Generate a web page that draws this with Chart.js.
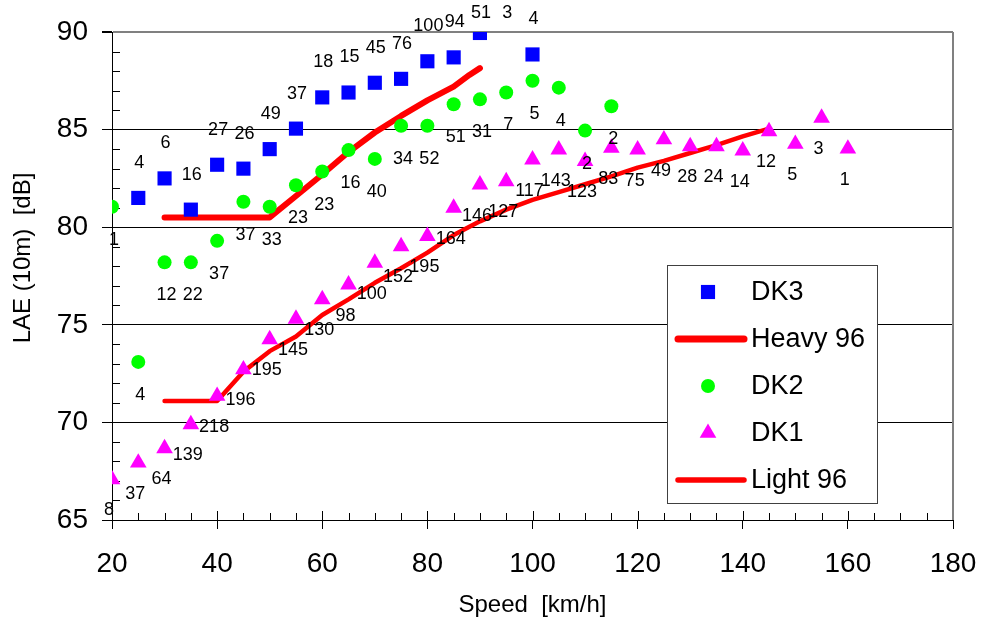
<!DOCTYPE html>
<html>
<head>
<meta charset="utf-8">
<script src="https://cdn.jsdelivr.net/npm/chart.js@4.4.1/dist/chart.umd.min.js"></script>
<style>
  html, body { margin: 0; padding: 0; background: #fff; }
  #wrap { width: 981px; height: 623px; }
</style>
</head>
<body>
<div id="wrap"><canvas id="c" width="981" height="623"></canvas></div>
<script>
// значения
const speedDK3 = [25, 30, 35, 40, 45, 50, 55, 60, 65, 70, 75, 80, 85, 90, 95, 100];
const laeDK3 = [81.5, 82.5, 80.9, 83.2, 83.0, 84.0, 85.05, 86.65, 86.9, 87.4, 87.6, 88.5, 88.7, 89.95, 90.5, 88.85];
const countDK3 = ['4', '6', '16', '27', '26', '49', '37', '18', '15', '45', '76', '100', '94', '51', '3', '4'];

const speedDK2 = [20, 25, 30, 35, 40, 45, 50, 55, 60, 65, 70, 75, 80, 85, 90, 95, 100, 105, 110, 115];
const laeDK2 = [81.05, 73.1, 78.2, 78.2, 79.3, 81.3, 81.05, 82.15, 82.85, 83.95, 83.5, 85.2, 85.2, 86.3, 86.55, 86.9, 87.5, 87.15, 84.95, 86.2];
const countDK2 = ['1', '4', '12', '22', '37', '37', '33', '23', '23', '16', '40', '34', '52', '51', '31', '7', '5', '4', '2', '2'];

const speedDK1 = [20, 25, 30, 35, 40, 45, 50, 55, 60, 65, 70, 75, 80, 85, 90, 95, 100, 105, 110, 115, 120, 125, 130, 135, 140, 145, 150, 155, 160];
const laeDK1 = [67.08, 67.93, 68.67, 69.9, 71.35, 72.71, 74.25, 75.3, 76.3, 77.06, 78.17, 79.02, 79.54, 80.99, 82.18, 82.35, 83.46, 83.97, 83.38, 84.06, 83.97, 84.49, 84.14, 84.14, 83.92, 84.91, 84.26, 85.6, 84.02];
const countDK1 = ['8', '37', '64', '139', '218', '196', '195', '145', '130', '98', '100', '152', '195', '164', '146', '127', '117', '143', '123', '83', '75', '49', '28', '24', '14', '12', '5', '3', '1'];

const speedHeavy = [30, 35, 40, 45, 50, 55, 60, 65, 70, 75, 80, 85, 88, 90];
const laeHeavy = [80.5, 80.5, 80.5, 80.5, 80.5, 81.6, 82.7, 83.85, 84.85, 85.7, 86.5, 87.2, 87.8, 88.15];

const speedLight = [30, 35, 40, 45, 50, 55, 60, 65, 70, 75, 80, 85, 90, 95, 100, 105, 110, 115, 120, 125, 130, 135, 140, 145];
const laeLight = [71.1, 71.1, 71.1, 72.6, 73.65, 74.4, 75.5, 76.3, 77.15, 77.9, 78.7, 79.6, 80.3, 80.9, 81.4, 81.8, 82.2, 82.6, 83.05, 83.4, 83.8, 84.2, 84.65, 85.05];

const FONT = "'Liberation Sans', Arial, sans-serif";

function toXY(xs, ys) {
    return xs.map((x, i) => ({ x: x, y: ys[i] }));
}

// минорные засечки, рамка справа, подпись оси Y
const axisExtras = {
    id: 'axisExtras',
    beforeDatasetsDraw(chart) {
        const { ctx, chartArea: a, scales } = chart;
        const x = scales.x, y = scales.y;
        ctx.save();
        ctx.strokeStyle = '#000';
        ctx.lineWidth = 1;
        ctx.beginPath();
        for (let v = 66; v < 90; v++) {
            if (v % 5 === 0) continue;
            const py = Math.round(y.getPixelForValue(v)) + 0.5;
            ctx.moveTo(a.left, py);
            ctx.lineTo(a.left + 8, py);
        }
        for (let v = 25; v < 180; v += 5) {
            const px = Math.round(x.getPixelForValue(v)) + 0.5;
            ctx.moveTo(px, a.bottom);
            ctx.lineTo(px, a.bottom - (v % 20 === 0 ? 9 : 7));
        }
        ctx.stroke();
        ctx.strokeStyle = '#808080';
        ctx.lineWidth = 2;
        ctx.beginPath();
        ctx.moveTo(a.right, a.top);
        ctx.lineTo(a.right, a.bottom);
        ctx.stroke();
        ctx.restore();
    },
    afterDraw(chart) {
        const { ctx, chartArea: a } = chart;
        ctx.save();
        ctx.fillStyle = '#000';
        ctx.font = '24px ' + FONT;
        ctx.textAlign = 'center';
        ctx.textBaseline = 'middle';
        ctx.translate(23, a.top + 226);
        ctx.rotate(-Math.PI / 2);
        ctx.fillText('LAE (10m)  [dB]', 0, 0);
        ctx.restore();
    }
};

// числа наблюдений возле точек
const countLabels = {
    id: 'countLabels',
    afterDatasetsDraw(chart) {
        const ctx = chart.ctx;
        ctx.save();
        ctx.font = '18px ' + FONT;
        ctx.fillStyle = '#000';
        ctx.textAlign = 'center';
        ctx.textBaseline = 'middle';
        chart.data.datasets.forEach((ds, i) => {
            if (!ds.counts) return;
            const meta = chart.getDatasetMeta(i);
            meta.data.forEach((pt, j) => {
                const tx = pt.x + ds.labelOffset[0];
                const ty = Math.max(13, pt.y + ds.labelOffset[1]);
                ctx.fillText(ds.counts[j], tx, ty);
            });
        });
        ctx.restore();
    }
};

// легенда внутри области графика
const boxLegend = {
    id: 'boxLegend',
    afterDraw(chart) {
        const { ctx, chartArea: a } = chart;
        const w = 210, h = 238;
        const left = a.right - 76 - w, top = a.bottom - 17 - h;
        ctx.save();
        ctx.fillStyle = '#fff';
        ctx.fillRect(left, top, w, h);
        ctx.strokeStyle = '#404040';
        ctx.lineWidth = 1;
        ctx.strokeRect(left + 0.5, top + 0.5, w, h);
        ctx.font = '27px ' + FONT;
        ctx.textBaseline = 'middle';
        ctx.textAlign = 'left';
        chart.data.datasets.forEach((ds, i) => {
            const cy = top + 27 + i * 47;
            if (ds.showLine) {
                ctx.strokeStyle = ds.borderColor;
                ctx.lineWidth = ds.legendWidth;
                ctx.lineCap = 'round';
                ctx.beginPath();
                ctx.moveTo(left + 11, cy);
                ctx.lineTo(left + 77, cy);
                ctx.stroke();
            } else {
                ctx.fillStyle = ds.backgroundColor;
                Chart.helpers.drawPoint(ctx, {
                    pointStyle: ds.pointStyle, radius: ds.pointRadius, rotation: 0, borderWidth: 0
                }, left + 41, cy);
            }
            ctx.fillStyle = '#000';
            ctx.fillText(ds.label, left + 84, cy + 1);
        });
        ctx.restore();
    }
};

new Chart(document.getElementById('c').getContext('2d'), {
    type: 'scatter',
    data: {
        datasets: [{
            label: 'DK3',
            data: toXY(speedDK3, laeDK3),
            counts: countDK3,
            labelOffset: [1, -35],
            pointStyle: 'rect',
            pointRadius: 10,
            backgroundColor: '#0000FF',
            borderWidth: 0,
            order: 1
        }, {
            label: 'Heavy 96',
            data: toXY(speedHeavy, laeHeavy),
            showLine: true,
            borderColor: '#FF0000',
            borderWidth: 6,
            legendWidth: 7,
            borderCapStyle: 'round',
            borderJoinStyle: 'round',
            pointRadius: 0,
            order: 2
        }, {
            label: 'DK2',
            data: toXY(speedDK2, laeDK2),
            counts: countDK2,
            labelOffset: [2, 33],
            pointStyle: 'circle',
            pointRadius: 7,
            backgroundColor: '#00FF00',
            borderWidth: 0,
            order: 1
        }, {
            label: 'DK1',
            data: toXY(speedDK1, laeDK1),
            counts: countDK1,
            labelOffset: [-3, 31],
            pointStyle: 'triangle',
            pointRadius: 9.6,
            backgroundColor: '#FF00FF',
            borderWidth: 0,
            order: 1
        }, {
            label: 'Light 96',
            data: toXY(speedLight, laeLight),
            showLine: true,
            borderColor: '#FF0000',
            borderWidth: 4.5,
            legendWidth: 5.5,
            borderCapStyle: 'round',
            borderJoinStyle: 'round',
            pointRadius: 0,
            order: 2
        }]
    },
    options: {
        responsive: false,
        animation: false,
        events: [],
        layout: { padding: { top: 32, right: 28, left: 0, bottom: 0 } },
        plugins: {
            legend: { display: false },
            tooltip: { enabled: false }
        },
        scales: {
            x: {
                type: 'linear',
                min: 20,
                max: 180,
                afterFit: s => { s.height = 103; s.paddingLeft = 0; s.paddingRight = 0; },
                ticks: { stepSize: 20, color: '#000', padding: 18, maxRotation: 0, font: { family: FONT, size: 28 } },
                grid: { drawOnChartArea: false, tickLength: 9, color: '#000', tickColor: '#000' },
                border: { color: '#000', width: 1 },
                title: {
                    display: true,
                    text: 'Speed  [km/h]',
                    color: '#000',
                    font: { family: FONT, size: 24, lineHeight: 1.2 },
                    padding: { top: 0, bottom: 3 }
                }
            },
            y: {
                min: 65,
                max: 90,
                afterFit: s => { s.width = 112; s.paddingTop = 0; s.paddingBottom = 0; },
                ticks: { stepSize: 5, color: '#000', padding: 14, font: { family: FONT, size: 28 } },
                grid: {
                    tickLength: 10,
                    color: c => (c.tick && c.tick.value === 90 ? '#808080' : '#000'),
                    lineWidth: c => (c.tick && c.tick.value === 90 ? 2 : 1),
                    tickColor: '#000'
                },
                border: { color: '#000', width: 1 }
            }
        }
    },
    plugins: [axisExtras, countLabels, boxLegend]
});
</script>
</body>
</html>
